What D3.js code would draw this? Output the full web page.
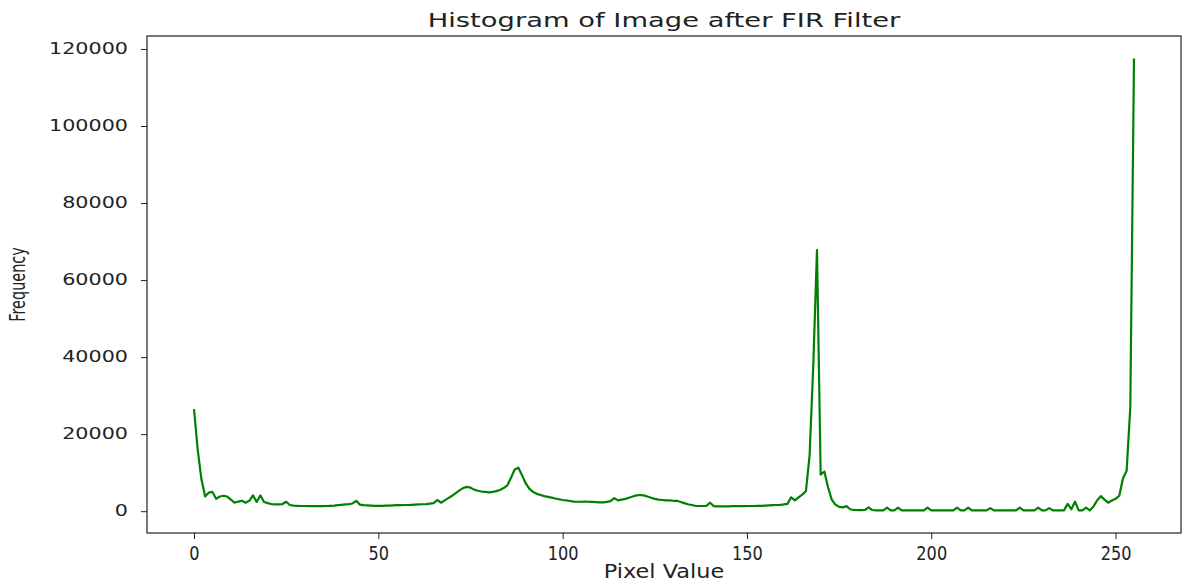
<!DOCTYPE html>
<html>
<head>
<meta charset="utf-8">
<script src="https://cdn.jsdelivr.net/npm/d3@7"></script>
<style>
  body { margin: 0; background: #fff; }
  text { font-family: "DejaVu Sans", sans-serif; fill: #222; }
</style>
</head>
<body>
<svg width="1183" height="585"></svg>
<script>
// pixel values 0..255 and their counts
var pixelValues = d3.range(0, 256);
var counts = [
  26500, 16000, 8400, 3850, 4800, 5000, 3200, 3800, 4000, 3800,
  3000, 2200, 2500, 2700, 2200, 2700, 4100, 2400, 4100, 2400,
  2100, 1850, 1750, 1750, 1850, 2450, 1600, 1450, 1400, 1350,
  1350, 1300, 1300, 1300, 1300, 1300, 1350, 1400, 1450, 1550,
  1650, 1750, 1850, 2000, 2700, 1700, 1550, 1500, 1450, 1400,
  1400, 1400, 1450, 1450, 1500, 1550, 1550, 1600, 1600, 1650,
  1700, 1750, 1800, 1850, 1950, 2100, 2900, 2200, 2800, 3400,
  4000, 4700, 5400, 6000, 6300, 6100, 5600, 5300, 5100, 5000,
  4900, 5000, 5200, 5500, 6000, 6700, 8700, 10800, 11300, 9300,
  7200, 5800, 5000, 4500, 4200, 3900, 3700, 3500, 3300, 3100,
  2900, 2800, 2650, 2500, 2450, 2450, 2500, 2450, 2400, 2350,
  2300, 2300, 2400, 2600, 3400, 2800, 3000, 3200, 3500, 3800,
  4100, 4200, 4100, 3800, 3500, 3200, 3000, 2900, 2800, 2800,
  2700, 2700, 2400, 2100, 1800, 1600, 1400, 1350, 1350, 1400,
  2200, 1300, 1250, 1250, 1250, 1250, 1300, 1300, 1300, 1300,
  1350, 1350, 1350, 1400, 1400, 1450, 1500, 1550, 1600, 1650,
  1750, 1900, 3600, 2800, 3600, 4300, 5200, 14500, 38000, 67800,
  9500, 10300, 6200, 3000, 1700, 1100, 1000, 1300, 500, 300,
  250, 250, 300, 1000, 300, 200, 200, 200, 900, 200,
  200, 900, 200, 200, 200, 200, 200, 200, 200, 900,
  200, 200, 200, 200, 200, 200, 200, 900, 200, 200,
  900, 200, 200, 200, 200, 200, 800, 200, 200, 200,
  200, 200, 200, 200, 900, 200, 200, 200, 200, 900,
  200, 200, 800, 200, 200, 200, 200, 1900, 500, 2500,
  200, 200, 900, 200, 1200, 2800, 3900, 3000, 2200, 2800,
  3200, 4000, 8500, 10500, 27000, 117500
];
var xTicks = [0, 50, 100, 150, 200, 250];
var yTicks = [0, 20000, 40000, 60000, 80000, 100000, 120000];

var svg = d3.select("svg");
// plot box edges ("top" is taken on window, so other names)
var plotLeft = 147, plotRight = 1181, plotTop = 36, plotBottom = 533;

// matplotlib-style 5% margins
var xPad = (d3.max(pixelValues) - d3.min(pixelValues)) * 0.05;
var yMin = d3.min(counts), yMax = d3.max(counts);
var yPad = (yMax - yMin) * 0.05;

var xScale = d3.scaleLinear()
  .domain([d3.min(pixelValues) - xPad, d3.max(pixelValues) + xPad])
  .range([plotLeft, plotRight]);
var yScale = d3.scaleLinear()
  .domain([yMin - yPad, yMax + yPad])
  .range([plotBottom, plotTop]);

var line = d3.line()
  .x(function(d, i) { return xScale(pixelValues[i]); })
  .y(function(d) { return yScale(d); });

svg.append("path")
  .datum(counts)
  .attr("d", line)
  .attr("fill", "none")
  .attr("stroke", "#008000")
  .attr("stroke-width", 2.2)
  .attr("stroke-linejoin", "round");

// axes
var xAxis = svg.append("g")
  .attr("transform", "translate(0," + plotBottom + ")")
  .call(d3.axisBottom(xScale).tickValues(xTicks).tickSize(6).tickPadding(5).tickFormat(d3.format("d")));
var yAxis = svg.append("g")
  .attr("transform", "translate(" + plotLeft + ",0)")
  .call(d3.axisLeft(yScale).tickValues(yTicks).tickSize(6).tickPadding(6).tickFormat(d3.format("d")));

[xAxis, yAxis].forEach(function(a) {
  a.select(".domain").remove();
  a.selectAll(".tick line").attr("stroke", "#222").attr("stroke-width", 1);
  a.selectAll(".tick text").attr("fill", "#222").style("font-family", "DejaVu Sans");
});

xAxis.selectAll(".tick text")
  .style("font-size", "19px")
  .attr("transform", "scale(0.85,1)")
  .attr("dy", "0.85em");

yAxis.selectAll(".tick text")
  .style("font-size", "15px")
  .attr("transform", "scale(1.38,1)")
  .attr("x", -19 / 1.38);

// frame
svg.append("rect")
  .attr("x", plotLeft).attr("y", plotTop)
  .attr("width", plotRight - plotLeft).attr("height", plotBottom - plotTop)
  .attr("fill", "none").attr("stroke", "#222").attr("stroke-width", 1.2);

// labels
svg.append("text")
  .attr("transform", "translate(" + ((plotLeft + plotRight) / 2) + ",27) scale(1.44,1)")
  .attr("text-anchor", "middle")
  .style("font-size", "19px")
  .text("Histogram of Image after FIR Filter");

svg.append("text")
  .attr("transform", "translate(" + ((plotLeft + plotRight) / 2) + ",578) scale(1.12,1)")
  .attr("text-anchor", "middle")
  .style("font-size", "20px")
  .text("Pixel Value");

svg.append("text")
  .attr("transform", "translate(25," + ((plotTop + plotBottom) / 2) + ") rotate(-90) scale(0.85,1.2)")
  .attr("text-anchor", "middle")
  .style("font-size", "17px")
  .text("Frequency");
</script>
</body>
</html>
